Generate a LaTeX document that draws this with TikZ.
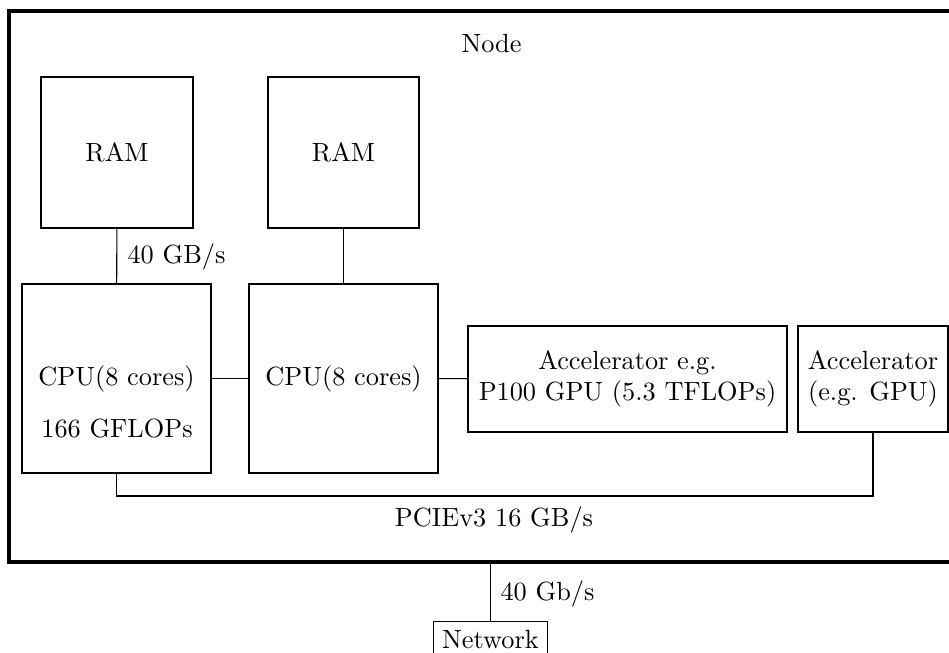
\documentclass[tikz,border=0pt]{standalone}
\begin{document}
\begin{tikzpicture}[x=0.38pt,y=-0.38pt,
  box/.style={draw, inner sep=0pt, align=center},
  lbl/.style={inner sep=0pt, anchor=base}]
\useasboundingbox (0,0) rectangle (949,652);
% outer node box (right edge lies beyond the picture)
\node[draw, line width=1.2pt, inner sep=0pt, minimum width=946*0.38pt, minimum height=551*0.38pt] (nodebox) at (482,286.5) {};
\node[lbl] (nodelbl) at (491.5,52) {Node};
% RAM
\node[box, minimum width=152*0.38pt, minimum height=151*0.38pt] (ram1) at (117,152.5) {RAM};
\node[box, minimum width=151*0.38pt, minimum height=151*0.38pt] (ram2) at (343.5,152.5) {RAM};
% CPUs
\node[box, minimum width=189*0.38pt, minimum height=189*0.38pt] (cpu1) at (116.5,378.5) {CPU(8 cores)};
\node[lbl] (flops) at (117,437) {166 GFLOPs};
\node[box, minimum width=189*0.38pt, minimum height=189*0.38pt] (cpu2) at (343.5,378.5) {CPU(8 cores)};
% Accelerators
\node[box, minimum width=319*0.38pt, minimum height=106*0.38pt] (acc1) at (627.5,379) {Accelerator e.g.\\P100 GPU (5.3 TFLOPs)};
\node[box, minimum width=150*0.38pt, minimum height=106*0.38pt] (acc2) at (873,379) {Accelerator\\(e.g. GPU)};
% Network
\node[draw, anchor=north] (net) at (490.5,621) {Network};
% connectors
\draw (ram1) -- (cpu1);
\draw (ram2) -- (cpu2);
\node[lbl, anchor=base west] (bw1) at (127,263) {40 GB/s};
\draw (cpu1) -- (cpu2);
\draw (cpu2) -- (acc1);
\coordinate (bus) at (0,496);
\draw (cpu1.south) -- (cpu1.south |- bus) -- (acc2.south |- bus) -- (acc2.south);
\node[lbl] (pcie) at (494,526) {PCIEv3 16 GB/s};
\draw (net.north) -- (net.north |- nodebox.south);
\node[lbl, anchor=base west] (bw2) at (500,600) {40 Gb/s};
\end{tikzpicture}
\end{document}
